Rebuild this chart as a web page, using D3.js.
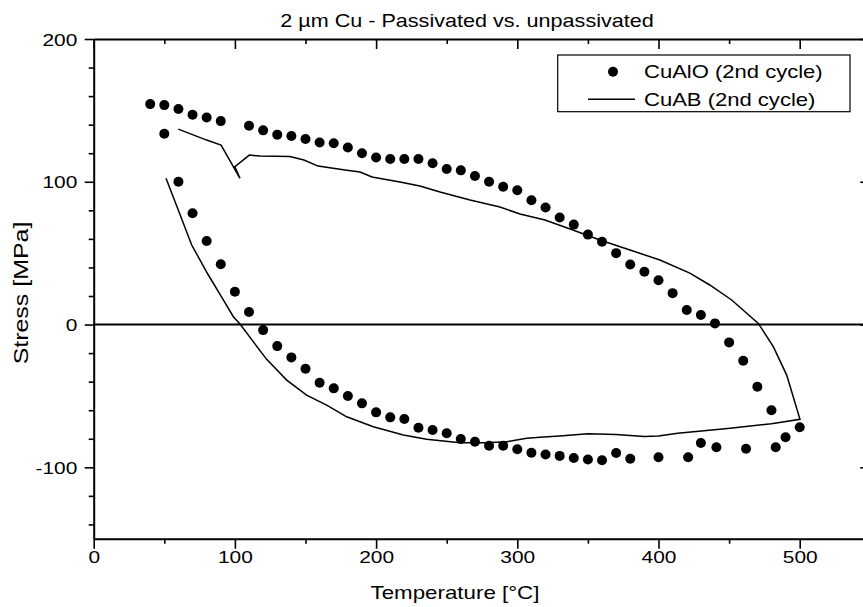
<!DOCTYPE html>
<html>
<head>
<meta charset="utf-8">
<script src="https://cdn.jsdelivr.net/npm/d3@7"></script>
<style>
  body { margin: 0; background: #fff; }
  svg { display: block; }
  text { font-family: "Liberation Sans", Arial, Helvetica, sans-serif; fill: #000; }
</style>
</head>
<body>
<svg id="chart" width="863" height="607"></svg>
<script>
// CuAlO (2nd cycle) – measured points, heating branch then cooling branch
const cualoTemp = [
  50, 60, 70, 80, 90, 100, 110, 120, 130, 140, 150, 160, 170, 180, 190, 200,
  210, 220, 230, 240, 250, 260, 270, 280, 290, 300, 310, 320, 330, 340, 350,
  360, 370, 380, 400, 421, 430, 441, 462, 483, 490, 500,
  480, 470, 460, 450, 440, 430, 420, 410, 400, 390, 380, 370, 360, 350, 340,
  330, 320, 310, 300, 290, 280, 270, 260, 250, 240, 230, 220, 210, 200, 190,
  180, 170, 160, 150, 140, 130, 120, 110, 90, 80, 70, 60, 50, 40
];
const cualoStress = [
  133.6, 100, 78, 58.5, 42.2, 23, 8.8, -3.9, -15.1, -23, -31, -40.8, -44.7, -50.1, -55.2, -61.5,
  -65, -66.2, -72.3, -73.9, -76.2, -80.2, -82.1, -84.9, -84.9, -87.4, -89.8, -91, -92, -93.5, -94.5,
  -95, -90, -94, -93, -93, -83, -86, -87, -86, -79, -72,
  -60, -43.6, -25.4, -12.5, 0.8, 6.7, 10.2, 22, 31, 37, 42, 50, 58, 63, 70,
  75, 82, 87, 94, 96.5, 100, 104, 108, 109, 113, 116, 116, 116, 117, 120,
  124, 127, 127.5, 130, 132, 133, 136, 139.2, 142.5, 145, 147, 151, 153.7, 154.4
];

// CuAB (2nd cycle) – continuous trace, heating then cooling
const cuabTemp = [
  51.2, 59.9, 69.4, 81.2, 91.8, 98.9, 103.6, 113, 122.5, 136.7, 150.8, 165, 179.2, 198,
  219.3, 235.8, 259.4, 278.3, 292.5, 306.7, 316.1, 330, 350, 370, 390, 400, 413.6, 450.7,
  480, 500.2,
  490.8, 481.3, 470.7, 451.8, 436.3, 422.2, 401, 379.8, 358.5, 339.4, 319.6, 301.9, 287.7,
  266.5, 245.3, 231, 216.9, 197.1, 188.6, 178, 158.9, 148.9, 139, 117.8, 110.2, 100, 103.6,
  90.2, 80, 59.9
];
const cuabStress = [
  102.4, 80.2, 55.7, 34.7, 17.2, 5.5, 0.4, -12, -24.4, -38.9, -49.4, -56.4, -64.6, -71.6,
  -77.4, -80.4, -82.8, -82.8, -82.1, -79.7, -79, -78, -76.5, -77, -78.5, -78, -76.2, -72.7,
  -69.5, -66.4,
  -35.4, -15.5, 0.8, 17.2, 27.7, 36, 45.2, 52.2, 59.2, 66.2, 73.2, 77.4, 82.3,
  87.2, 92.8, 97, 99.8, 103.3, 106.8, 108.2, 111, 115.2, 117.7, 118, 118.7, 110.5, 102.4,
  125.7, 129.2, 136.9
];

const xMajor = [0, 100, 200, 300, 400, 500];
const xMinor = [50, 150, 250, 350, 450, 550];
const yMajor = [-100, 0, 100, 200];
const yMinor = [-140, -120, -80, -60, -40, -20, 20, 40, 60, 80, 120, 140, 160, 180];

const titleText = "2 µm Cu - Passivated vs. unpassivated";
const xTitle = "Temperature [°C]";
const yTitle = "Stress [MPa]";
const seriesNames = ["CuAlO (2nd cycle)", "CuAB (2nd cycle)"];

const svg = d3.select("#chart");
const x = d3.scaleLinear().domain([0, 550]).range([93.7, 870.3]);
const y = d3.scaleLinear().domain([-150, 200]).range([538.7, 39]);

// plain hyphen for negative tick values
const plainNum = d => String(d);

function styleAxis(g, width) {
  g.attr("font-family", null).attr("font-size", null);
  g.select(".domain").attr("stroke", "#000").attr("stroke-width", width);
  g.selectAll(".tick line").attr("stroke", "#000").attr("stroke-width", 1.6);
}

// left axis: outward ticks with labels
const leftAxis = svg.append("g").attr("transform", `translate(${x(0)},0)`)
  .call(d3.axisLeft(y).tickValues(yMajor).tickFormat(plainNum)
    .tickSize(9).tickSizeOuter(0).tickPadding(7.4));
styleAxis(leftAxis, 2);
const sxTick = 1.23;
leftAxis.selectAll(".tick text")
  .attr("x", -16.4 / sxTick).attr("dy", "0.36em")
  .attr("transform", `scale(${sxTick},1)`)
  .style("font-size", "17px");
const leftMinor = svg.append("g").attr("transform", `translate(${x(0)},0)`)
  .call(d3.axisLeft(y).tickValues(yMinor).tickSize(5).tickFormat(""));
styleAxis(leftMinor, 0);
leftMinor.select(".domain").remove();

// bottom axis: outward ticks with labels
const bottomAxis = svg.append("g").attr("transform", `translate(0,${y(-150)})`)
  .call(d3.axisBottom(x).tickValues(xMajor).tickFormat(plainNum)
    .tickSize(10).tickSizeOuter(0));
styleAxis(bottomAxis, 2);
bottomAxis.selectAll(".tick text")
  .attr("y", 24.5).attr("dy", 0)
  .attr("transform", `scale(${sxTick},1)`)
  .style("font-size", "17px");
const bottomMinor = svg.append("g").attr("transform", `translate(0,${y(-150)})`)
  .call(d3.axisBottom(x).tickValues(xMinor).tickSize(5).tickFormat(""));
styleAxis(bottomMinor, 0);
bottomMinor.select(".domain").remove();

// top and right axes: inward ticks, no labels
const topAxis = svg.append("g").attr("transform", `translate(0,${y(200)})`)
  .call(d3.axisTop(x).tickValues(xMajor).tickSize(-10).tickSizeOuter(0).tickFormat(""));
styleAxis(topAxis, 2);
const topMinor = svg.append("g").attr("transform", `translate(0,${y(200)})`)
  .call(d3.axisTop(x).tickValues(xMinor).tickSize(-5).tickFormat(""));
styleAxis(topMinor, 0);
topMinor.select(".domain").remove();

const rightAxis = svg.append("g").attr("transform", `translate(${x(550)},0)`)
  .call(d3.axisRight(y).tickValues(yMajor).tickSize(-10).tickSizeOuter(0).tickFormat(""));
styleAxis(rightAxis, 2);
const rightMinor = svg.append("g").attr("transform", `translate(${x(550)},0)`)
  .call(d3.axisRight(y).tickValues(yMinor).tickSize(-5).tickFormat(""));
styleAxis(rightMinor, 0);
rightMinor.select(".domain").remove();

// zero reference line
svg.append("line")
  .attr("x1", x(0)).attr("x2", x(550))
  .attr("y1", y(0)).attr("y2", y(0))
  .attr("stroke", "#000").attr("stroke-width", 2);

// CuAB trace
const cuab = cuabTemp.map((t, i) => [t, cuabStress[i]]);
svg.append("path")
  .datum(cuab)
  .attr("fill", "none").attr("stroke", "#000").attr("stroke-width", 1.5)
  .attr("stroke-linejoin", "miter")
  .attr("d", d3.line().x(d => x(d[0])).y(d => y(d[1])));

// CuAlO points
const cualo = cualoTemp.map((t, i) => [t, cualoStress[i]]);
svg.append("g").selectAll("circle")
  .data(cualo).join("circle")
  .attr("cx", d => x(d[0])).attr("cy", d => y(d[1]))
  .attr("r", 5).attr("fill", "#000");

// text helper with horizontal stretch
function label(px, py, str, size, sx, anchor, rot) {
  const r = rot ? ` rotate(${rot})` : "";
  svg.append("text")
    .attr("transform", `translate(${px},${py})${r} scale(${sx},1)`)
    .attr("text-anchor", anchor)
    .style("font-size", size + "px")
    .text(str);
}

label(467, 26.7, titleText, 17.7, 1.22, "middle");
label(455, 599, xTitle, 18, 1.24, "middle");
label(27.5, 293, yTitle, 19.5, 1.28, "middle", -90);

// legend
const lg = svg.append("g");
lg.append("rect")
  .attr("x", 557.7).attr("y", 55).attr("width", 292.3).attr("height", 56.7)
  .attr("fill", "#fff").attr("stroke", "#000").attr("stroke-width", 1.2);
lg.append("circle").attr("cx", 613).attr("cy", 71.7).attr("r", 5).attr("fill", "#000");
lg.append("line").attr("x1", 588).attr("x2", 635).attr("y1", 99.3).attr("y2", 99.3)
  .attr("stroke", "#000").attr("stroke-width", 1.5);
label(644, 78.3, seriesNames[0], 19, 1.16, "start");
label(644, 106, seriesNames[1], 19, 1.16, "start");
</script>
</body>
</html>
